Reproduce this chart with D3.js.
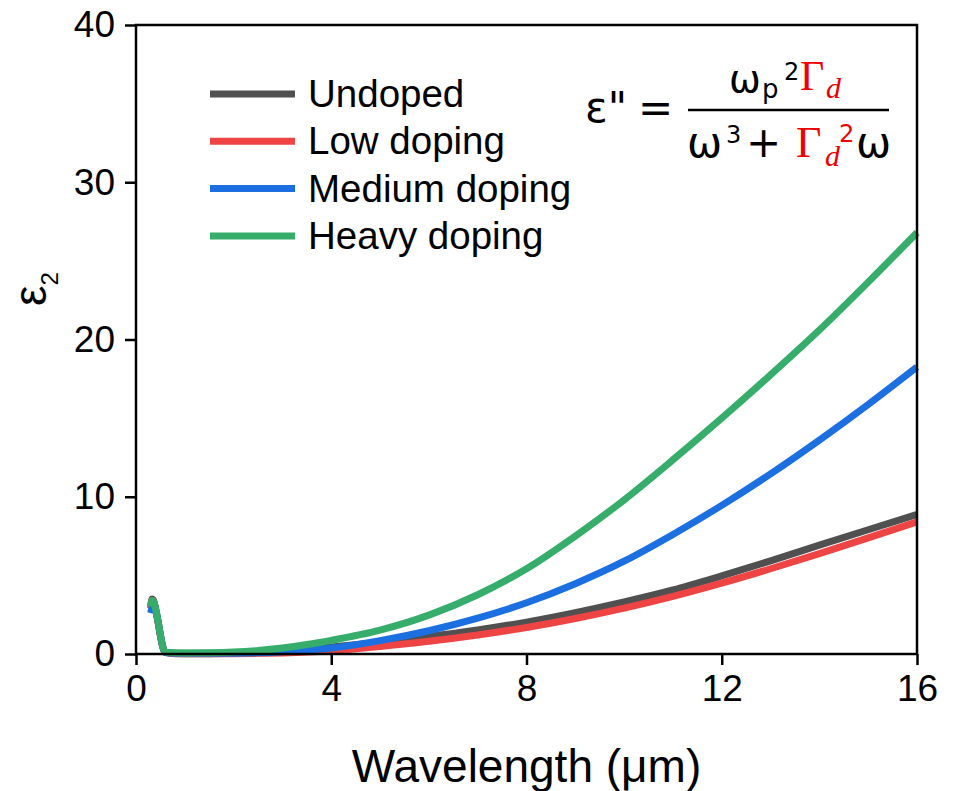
<!DOCTYPE html>
<html>
<head>
<meta charset="utf-8">
<script src="https://cdn.jsdelivr.net/npm/d3@7"></script>
<style>
  html, body { margin: 0; padding: 0; background: #fff; }
  svg { display: block; }
  text { font-family: "Liberation Sans", Arial, sans-serif; fill: #000; }
</style>
</head>
<body>
<svg id="chart" width="956" height="791"></svg>
<script>
// ---- Data ----
const wavelength = [0.3, 0.33, 0.36, 0.4, 0.45, 0.5, 0.55, 0.6, 0.8, 1.0, 1.5, 2.0, 2.5, 3.0, 3.5, 4.0,
                    5.0, 6.0, 7.0, 8.0, 9.0, 10.0, 11.0, 12.0, 13.0, 14.0, 15.0, 16.0];
const undoped   = [3.0, 3.5, 3.4, 2.9, 2.1, 1.2, 0.45, 0.12, 0.03, 0.02, 0.02, 0.05, 0.1, 0.2, 0.32, 0.45,
                   0.75, 1.11, 1.53, 2.03, 2.63, 3.31, 4.07, 4.97, 5.92, 6.92, 7.9, 8.87];
const lowDoping = [2.9, 3.4, 3.35, 2.85, 2.05, 1.15, 0.42, 0.1, 0.02, 0.01, 0.01, 0.02, 0.04, 0.07, 0.12, 0.2,
                   0.48, 0.81, 1.21, 1.69, 2.26, 2.92, 3.67, 4.51, 5.42, 6.38, 7.38, 8.4];
const medDoping = [2.6, 2.95, 3.2, 2.85, 2.1, 1.2, 0.45, 0.1, 0.05, 0.04, 0.04, 0.05, 0.08, 0.15, 0.25, 0.38,
                   0.85, 1.48, 2.28, 3.26, 4.47, 5.9, 7.6, 9.45, 11.45, 13.6, 15.87, 18.25];
const heavyDoping = [3.0, 3.4, 3.35, 2.9, 2.1, 1.2, 0.45, 0.12, 0.08, 0.07, 0.08, 0.12, 0.22, 0.38, 0.6, 0.87,
                     1.52, 2.47, 3.77, 5.42, 7.5, 9.8, 12.35, 15.0, 17.75, 20.6, 23.65, 26.8];
const seriesNames = ["Undoped", "Low doping", "Medium doping", "Heavy doping"];
const seriesValues = [undoped, lowDoping, medDoping, heavyDoping];
const seriesColors = ["#505050", "#ef4444", "#1b6fe0", "#37ad6b"];
const xTicks = [0, 4, 8, 12, 16];
const yTicks = [0, 10, 20, 30, 40];

// ---- Layout ----
const svg = d3.select("#chart");
const mLeft = 136, mRight = 917, mTop = 25, mBottom = 654;
const x = d3.scaleLinear().domain([0, 16]).range([mLeft, mRight]);
const y = d3.scaleLinear().domain([0, 40]).range([mBottom, mTop]);

// Curves
const line = d3.line()
  .x(d => x(d[0]))
  .y(d => y(d[1]))
  .curve(d3.curveMonotoneX);

seriesValues.forEach((vals, i) => {
  const pts = wavelength.map((w, j) => [w, vals[j]]);
  svg.append("path")
    .attr("d", line(pts))
    .attr("fill", "none")
    .attr("stroke", seriesColors[i])
    .attr("stroke-width", 7)
    .attr("stroke-linejoin", "round");
});

// Axes
const xAxis = svg.append("g")
  .attr("transform", `translate(0,${mBottom})`)
  .call(d3.axisBottom(x).tickValues(xTicks).tickSize(11).tickPadding(10).tickFormat(d3.format("d")));
const yAxis = svg.append("g")
  .attr("transform", `translate(${mLeft},0)`)
  .call(d3.axisLeft(y).tickValues(yTicks).tickSize(11).tickPadding(10).tickFormat(d3.format("d")));
[xAxis, yAxis].forEach(g => {
  g.select(".domain").remove();
  g.selectAll(".tick line").attr("stroke", "#000").attr("stroke-width", 2.5);
  g.selectAll(".tick text")
    .attr("fill", "#000")
    .style("font-family", '"Liberation Sans", Arial, sans-serif')
    .style("font-size", "37px");
});

// Frame
svg.append("rect")
  .attr("x", mLeft).attr("y", mTop)
  .attr("width", mRight - mLeft).attr("height", mBottom - mTop)
  .attr("fill", "none").attr("stroke", "#000").attr("stroke-width", 2.5);

// Axis titles
svg.append("text")
  .attr("x", (mLeft + mRight) / 2).attr("y", 782)
  .attr("text-anchor", "middle")
  .style("font-size", "46px")
  .text("Wavelength (\u03BCm)");

const yl = svg.append("text")
  .attr("transform", "translate(46,306) rotate(-90)")
  .attr("text-anchor", "start")
  .style("font-size", "46px");
yl.append("tspan").text("\u03B5");
yl.append("tspan").attr("dy", 12).style("font-size", "24px").text("2");

// Legend
const legY0 = 94, legStep = 47.3;
seriesNames.forEach((name, i) => {
  const ly = legY0 + i * legStep;
  svg.append("line")
    .attr("x1", 210).attr("x2", 295)
    .attr("y1", ly).attr("y2", ly)
    .attr("stroke", seriesColors[i]).attr("stroke-width", 7);
  svg.append("text")
    .attr("x", 308).attr("y", ly + 13)
    .style("font-size", "38.5px")
    .text(name);
});

// Equation
const eq = svg.append("g");
const sans = '"DejaVu Sans", "Liberation Sans", sans-serif';
const serif = '"Liberation Serif", "DejaVu Serif", serif';
function t(xp, yp, str, size, opts = {}) {
  return eq.append("text")
    .attr("x", xp).attr("y", yp)
    .style("font-size", size + "px")
    .style("font-family", opts.serif ? serif : sans)
    .style("font-style", opts.italic ? "italic" : "normal")
    .attr("fill", opts.color || "#000")
    .style("fill", opts.color || "#000")
    .attr("text-anchor", opts.anchor || "start")
    .text(str);
}
t(585, 122, "\u03B5\"", 42);
t(638, 122, "=", 42);
eq.append("line").attr("x1", 688).attr("x2", 889).attr("y1", 110).attr("y2", 110)
  .attr("stroke", "#000").attr("stroke-width", 2.5);
// numerator
t(729, 92, "\u03C9", 38);
t(762, 98, "p", 26);
t(784, 80, "2", 24);
t(800, 90, "\u0393", 42, {serif: true, color: "#ee0000"});
t(826, 98, "d", 30, {serif: true, italic: true, color: "#ee0000"});
// denominator
t(687, 157, "\u03C9", 42);
t(726, 143, "3", 24);
t(746, 157, "+", 42);
t(796, 157, "\u0393", 44, {serif: true, color: "#ee0000"});
t(825, 166, "d", 30, {serif: true, italic: true, color: "#ee0000"});
t(839, 142, "2", 24, {color: "#ee0000"});
t(856, 157, "\u03C9", 42);
</script>
</body>
</html>
